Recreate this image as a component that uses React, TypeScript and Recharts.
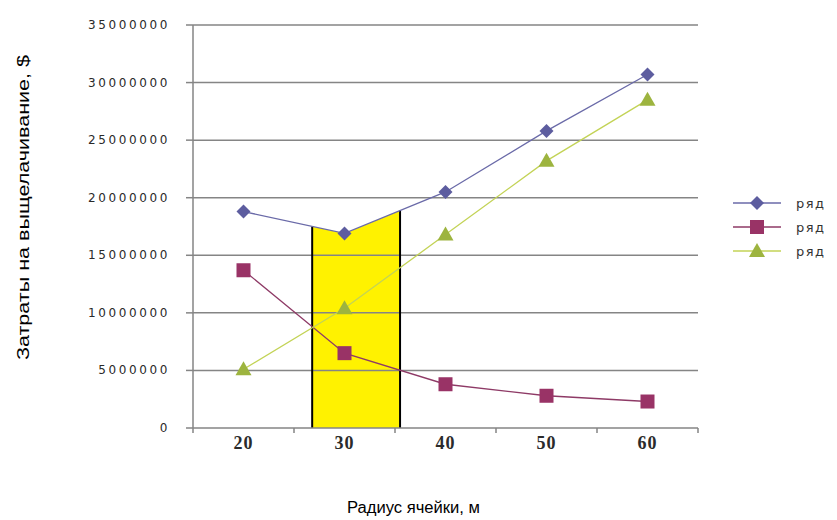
import React from "react";
import {
  ComposedChart,
  Line,
  Area,
  XAxis,
  YAxis,
  ReferenceLine,
} from "recharts";

// radius of cell, m
const radii = [20, 30, 40, 50, 60];
// costs, $
const row1 = [18800000, 16900000, 20500000, 25800000, 30700000];
const row2 = [13700000, 6500000, 3800000, 2800000, 2300000];
const row3 = [5100000, 10400000, 16800000, 23200000, 28500000];

// yellow highlighted zone (x positions on the radius axis, top values)
const zoneX = [26.8, 30, 35.5];
const zoneTop = [17500000, 16900000, 18900000];

const yTicks = [0, 5000000, 10000000, 15000000, 20000000, 25000000, 30000000, 35000000];
const xTicks = [15, 20, 25, 30, 35, 40, 45, 50, 55, 60, 65];
const legendNames = ["ряд", "ряд", "ряд"];
const xTitle = "Радиус ячейки, м";
const yTitle = "Затраты на выщелачивание, $";

const GRID = "#858585";

const toRows = (vals: number[], xs: number[]) => vals.map((v, i) => ({ x: xs[i], v }));
const data1 = toRows(row1, radii);
const data2 = toRows(row2, radii);
const data3 = toRows(row3, radii);
const zoneData = toRows(zoneTop, zoneX);

const Diamond = (props: any) => {
  const { cx, cy } = props;
  if (cx == null || cy == null) return null;
  return (
    <path
      d={`M${cx},${cy - 7}L${cx + 7},${cy}L${cx},${cy + 7}L${cx - 7},${cy}Z`}
      fill="#5d5d9f"
    />
  );
};

const Square = (props: any) => {
  const { cx, cy } = props;
  if (cx == null || cy == null) return null;
  return <rect x={cx - 7} y={cy - 7} width={14} height={14} fill="#993366" />;
};

const Triangle = (props: any) => {
  const { cx, cy } = props;
  if (cx == null || cy == null) return null;
  return (
    <path d={`M${cx},${cy - 8}L${cx + 8},${cy + 6}L${cx - 8},${cy + 6}Z`} fill="#9db43f" />
  );
};

const XTick = (props: any) => {
  const { x, y, payload } = props;
  const v = payload.value;
  if (v % 10 === 5) {
    return <line x1={x} x2={x} y1={y} y2={y + 5} stroke={GRID} strokeWidth={1.5} />;
  }
  return (
    <text
      x={x}
      y={y + 21}
      textAnchor="middle"
      fontFamily="Liberation Serif"
      fontWeight="bold"
      fontSize={18}
      letterSpacing={1}
      fill="#2b2b2b"
    >
      {v}
    </text>
  );
};

const YTick = (props: any) => {
  const { x, y, payload } = props;
  return (
    <text
      x={x}
      y={y}
      dy={4}
      textAnchor="end"
      fontFamily="DejaVu Sans"
      fontSize={12}
      letterSpacing={2.6}
      fill="#2a2a2a"
    >
      {payload.value}
    </text>
  );
};

const XTitle = (props: any) => {
  const vb = props.viewBox || {};
  const cx = vb.x + vb.width / 2 - 32;
  return (
    <text
      x={cx}
      y={vb.y + 85}
      textAnchor="middle"
      fontFamily="Liberation Sans"
      fontSize={16}
      textLength={133}
      lengthAdjust="spacingAndGlyphs"
      fill="#000"
    >
      {xTitle}
    </text>
  );
};

const YTitle = (props: any) => {
  const vb = props.viewBox || {};
  const cy = vb.y + vb.height / 2 - 19;
  const cx = 29;
  return (
    <text
      x={cx}
      y={cy}
      transform={`rotate(-90 ${cx} ${cy})`}
      textAnchor="middle"
      fontFamily="Liberation Sans"
      fontSize={17}
      textLength={305}
      lengthAdjust="spacingAndGlyphs"
      fill="#000"
    >
      {yTitle}
    </text>
  );
};

const legendItems = [
  { name: legendNames[0], color: "#6a6aa8", Marker: Diamond },
  { name: legendNames[1], color: "#8e3a66", Marker: Square },
  { name: legendNames[2], color: "#c3d356", Marker: Triangle },
];

const ChartLegend = () => (
  <div style={{ position: "absolute", left: 730, top: 191 }}>
    {legendItems.map((it, i) => (
      <div key={i} style={{ display: "flex", alignItems: "center", height: 24 }}>
        <svg width={54} height={20}>
          <line x1={3} x2={51} y1={10} y2={10} stroke={it.color} strokeWidth={1.5} />
          <it.Marker cx={27} cy={10} />
        </svg>
        <span
          style={{
            marginLeft: 12,
            fontFamily: "DejaVu Sans",
            fontSize: 13,
            letterSpacing: 1.5,
            color: "#333",
          }}
        >
          {it.name}
        </span>
      </div>
    ))}
  </div>
);

export default function App() {
  return (
    <div style={{ position: "absolute", left: 0, top: 0, width: 837, height: 520, background: "#fff" }}>
      <ComposedChart
        width={837}
        height={520}
        margin={{ top: 25, right: 139, bottom: 0, left: 0 }}
      >
        <XAxis
          type="number"
          dataKey="x"
          domain={[15, 65]}
          ticks={xTicks}
          interval={0}
          allowDataOverflow
          height={92}
          tickSize={0}
          tickMargin={0}
          tickLine={false}
          tick={<XTick />}
          axisLine={{ stroke: GRID, strokeWidth: 1.5 }}
          label={<XTitle />}
        />
        <YAxis
          type="number"
          domain={[0, 35000000]}
          ticks={yTicks}
          interval={0}
          width={193}
          tickSize={7}
          tickMargin={16}
          tickLine={{ stroke: GRID, strokeWidth: 1.5 }}
          axisLine={{ stroke: GRID, strokeWidth: 1.5 }}
          tick={<YTick />}
          label={<YTitle />}
        />
        <Area
          data={zoneData}
          dataKey="v"
          type="linear"
          baseValue={0}
          fill="#fff200"
          fillOpacity={1}
          stroke="none"
          isAnimationActive={false}
          dot={false}
          activeDot={false}
        />
        {yTicks.slice(1).map((t) => (
          <ReferenceLine key={t} y={t} stroke={GRID} strokeWidth={1.5} />
        ))}
        <ReferenceLine
          segment={[
            { x: zoneX[0], y: 0 },
            { x: zoneX[0], y: zoneTop[0] },
          ]}
          stroke="#000"
          strokeWidth={2}
        />
        <ReferenceLine
          segment={[
            { x: zoneX[2], y: 0 },
            { x: zoneX[2], y: zoneTop[2] },
          ]}
          stroke="#000"
          strokeWidth={2}
        />
        <Line
          data={data1}
          dataKey="v"
          name={legendNames[0]}
          type="linear"
          stroke="#6a6aa8"
          strokeWidth={1.3}
          dot={<Diamond />}
          activeDot={false}
          isAnimationActive={false}
        />
        <Line
          data={data2}
          dataKey="v"
          name={legendNames[1]}
          type="linear"
          stroke="#8e3a66"
          strokeWidth={1.3}
          dot={<Square />}
          activeDot={false}
          isAnimationActive={false}
        />
        <Line
          data={data3}
          dataKey="v"
          name={legendNames[2]}
          type="linear"
          stroke="#c3d356"
          strokeWidth={1.3}
          dot={<Triangle />}
          activeDot={false}
          isAnimationActive={false}
        />
      </ComposedChart>
      <ChartLegend />
    </div>
  );
}
